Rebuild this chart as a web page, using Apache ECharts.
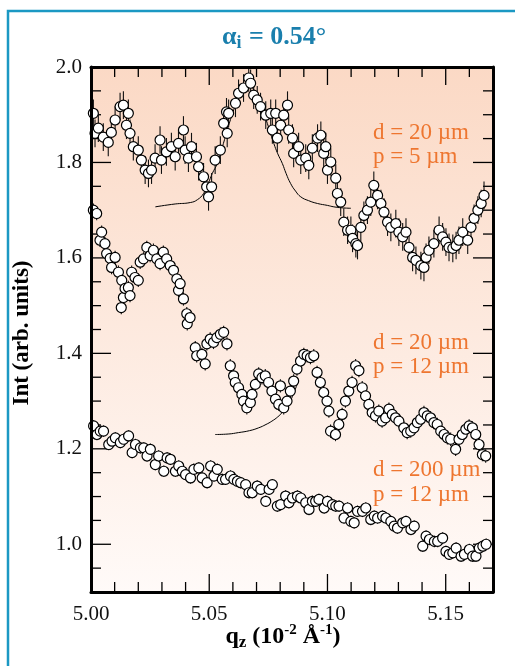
<!DOCTYPE html>
<html>
<head>
<meta charset="utf-8">
<script src="https://cdn.jsdelivr.net/npm/echarts@6.0.0/dist/echarts.min.js"></script>
<style>
    html, body { margin: 0; padding: 0; background: #fff; }
    #chart { width: 515px; height: 666px; }
</style>
</head>
<body>
<div id="chart"></div>
<script>
// d = 20 um, p = 5 um
var topQ = [5.0010, 5.0017, 5.0031, 5.0052, 5.0073, 5.0086, 5.0102, 5.0123, 5.0137, 5.0150, 5.0158, 5.0165,
    5.0179, 5.0200, 5.0213, 5.0229, 5.0243, 5.0256, 5.0271, 5.0292, 5.0298, 5.0319, 5.0340, 5.0356, 5.0370,
    5.0391, 5.0398, 5.0412, 5.0425, 5.0446, 5.0455, 5.0476, 5.0489, 5.0497, 5.0510, 5.0525, 5.0547, 5.0561,
    5.0573, 5.0576, 5.0582, 5.0611, 5.0624, 5.0645, 5.0667, 5.0675, 5.0688, 5.0703, 5.0717, 5.0739, 5.0760,
    5.0767, 5.0781, 5.0788, 5.0802, 5.0815, 5.0831, 5.0836, 5.0852, 5.0857, 5.0878, 5.0887, 5.0908, 5.0921,
    5.0936, 5.0958, 5.0972, 5.0984, 5.0993, 5.1000, 5.1014, 5.1035, 5.1042, 5.1056, 5.1069, 5.1085, 5.1099,
    5.1106, 5.1120, 5.1127, 5.1141, 5.1154, 5.1169, 5.1183, 5.1196, 5.1212, 5.1226, 5.1239, 5.1254, 5.1268,
    5.1289, 5.1302, 5.1318, 5.1332, 5.1345, 5.1360, 5.1374, 5.1395, 5.1408, 5.1417, 5.1429, 5.1450, 5.1472,
    5.1487, 5.1501, 5.1514, 5.1530, 5.1544, 5.1556, 5.1572, 5.1593, 5.1607, 5.1620, 5.1636, 5.1650, 5.1662];
var topI = [1.903, 1.861, 1.872, 1.853, 1.842, 1.863, 1.889, 1.917, 1.920, 1.878, 1.903, 1.861,
    1.833, 1.826, 1.805, 1.784, 1.777, 1.784, 1.809, 1.847, 1.805, 1.822, 1.833, 1.812, 1.840,
    1.868, 1.826, 1.809, 1.833, 1.812, 1.791, 1.770, 1.749, 1.728, 1.749, 1.805, 1.826, 1.882,
    1.906, 1.861, 1.903, 1.924, 1.945, 1.956, 1.977, 1.966, 1.941, 1.931, 1.917, 1.899, 1.903,
    1.868, 1.903, 1.851, 1.878, 1.899, 1.920, 1.868, 1.851, 1.819, 1.833, 1.805, 1.809, 1.794,
    1.830, 1.851, 1.857, 1.819, 1.833, 1.784, 1.801, 1.767, 1.735, 1.717, 1.675, 1.658, 1.658,
    1.641, 1.630, 1.626, 1.664, 1.689, 1.700, 1.717, 1.752, 1.731, 1.714, 1.696, 1.675, 1.664,
    1.672, 1.654, 1.644, 1.654, 1.622, 1.601, 1.595, 1.584, 1.580, 1.601, 1.616, 1.630, 1.658,
    1.644, 1.633, 1.622, 1.620, 1.626, 1.637, 1.654, 1.637, 1.664, 1.683, 1.700, 1.714, 1.731];

// d = 20 um, p = 12 um
var midQ = [5.0010, 5.0024, 5.0038, 5.0045, 5.0059, 5.0066, 5.0081, 5.0087, 5.0102, 5.0116, 5.0130, 5.0128,
    5.0137, 5.0144, 5.0158, 5.0165, 5.0172, 5.0186, 5.0200, 5.0208, 5.0222, 5.0236, 5.0250, 5.0264, 5.0278,
    5.0292, 5.0306, 5.0320, 5.0335, 5.0349, 5.0363, 5.0370, 5.0377, 5.0391, 5.0405, 5.0407, 5.0419, 5.0441,
    5.0447, 5.0469, 5.0483, 5.0490, 5.0504, 5.0518, 5.0532, 5.0547, 5.0561, 5.0575, 5.0589, 5.0603, 5.0610,
    5.0624, 5.0638, 5.0645, 5.0659, 5.0674, 5.0681, 5.0695, 5.0709, 5.0723, 5.0737, 5.0751, 5.0765, 5.0780,
    5.0794, 5.0801, 5.0815, 5.0829, 5.0843, 5.0857, 5.0871, 5.0886, 5.0900, 5.0914, 5.0928, 5.0942, 5.0956,
    5.0970, 5.0984, 5.0998, 5.1006, 5.1013, 5.1034, 5.1048, 5.1062, 5.1076, 5.1090, 5.1104, 5.1119, 5.1133,
    5.1147, 5.1161, 5.1175, 5.1189, 5.1203, 5.1217, 5.1231, 5.1246, 5.1260, 5.1274, 5.1288, 5.1302, 5.1323,
    5.1337, 5.1352, 5.1366, 5.1380, 5.1394, 5.1408, 5.1422, 5.1436, 5.1450, 5.1464, 5.1479, 5.1493, 5.1507,
    5.1521, 5.1542, 5.1556, 5.1570, 5.1585, 5.1599, 5.1613, 5.1627, 5.1641, 5.1655, 5.1669];
var midI = [1.700, 1.693, 1.637, 1.654, 1.630, 1.609, 1.599, 1.580, 1.601, 1.570, 1.553, 1.496,
    1.517, 1.536, 1.538, 1.521, 1.570, 1.559, 1.553, 1.591, 1.598, 1.622, 1.605, 1.616, 1.598,
    1.588, 1.612, 1.598, 1.584, 1.574, 1.556, 1.532, 1.546, 1.514, 1.483, 1.462, 1.475, 1.412,
    1.395, 1.398, 1.378, 1.420, 1.430, 1.423, 1.433, 1.440, 1.444, 1.420, 1.374, 1.353, 1.339,
    1.328, 1.314, 1.300, 1.286, 1.297, 1.314, 1.335, 1.357, 1.349, 1.353, 1.339, 1.321, 1.304,
    1.293, 1.332, 1.286, 1.300, 1.321, 1.342, 1.367, 1.384, 1.398, 1.395, 1.391, 1.395, 1.360,
    1.339, 1.318, 1.300, 1.279, 1.237, 1.230, 1.251, 1.272, 1.300, 1.321, 1.339, 1.374, 1.364,
    1.328, 1.311, 1.293, 1.276, 1.269, 1.279, 1.258, 1.265, 1.283, 1.272, 1.265, 1.258, 1.244,
    1.234, 1.237, 1.244, 1.255, 1.262, 1.276, 1.269, 1.265, 1.255, 1.251, 1.237, 1.230, 1.223,
    1.220, 1.199, 1.220, 1.230, 1.241, 1.248, 1.244, 1.230, 1.209, 1.188, 1.185];

// d = 200 um, p = 12 um
var lowQ = [5.0011, 5.0025, 5.0039, 5.0053, 5.0075, 5.0089, 5.0103, 5.0124, 5.0138, 5.0159, 5.0174, 5.0188,
    5.0209, 5.0223, 5.0237, 5.0251, 5.0272, 5.0286, 5.0308, 5.0322, 5.0336, 5.0357, 5.0371, 5.0386, 5.0400,
    5.0421, 5.0435, 5.0456, 5.0470, 5.0491, 5.0506, 5.0520, 5.0534, 5.0555, 5.0569, 5.0590, 5.0604, 5.0619,
    5.0633, 5.0654, 5.0668, 5.0682, 5.0703, 5.0718, 5.0739, 5.0753, 5.0767, 5.0788, 5.0802, 5.0823, 5.0837,
    5.0852, 5.0873, 5.0887, 5.0908, 5.0922, 5.0936, 5.0950, 5.0964, 5.0986, 5.1000, 5.1021, 5.1035, 5.1049,
    5.1070, 5.1085, 5.1099, 5.1113, 5.1127, 5.1148, 5.1162, 5.1183, 5.1198, 5.1212, 5.1233, 5.1247, 5.1268,
    5.1282, 5.1296, 5.1318, 5.1332, 5.1353, 5.1367, 5.1403, 5.1417, 5.1431, 5.1452, 5.1466, 5.1487, 5.1501,
    5.1515, 5.1530, 5.1544, 5.1565, 5.1579, 5.1600, 5.1614, 5.1628, 5.1642, 5.1657, 5.1671];
var lowI = [1.248, 1.230, 1.237, 1.237, 1.209, 1.216, 1.223, 1.213, 1.220, 1.227, 1.192, 1.209,
    1.202, 1.202, 1.185, 1.199, 1.167, 1.185, 1.153, 1.181, 1.178, 1.153, 1.164, 1.153, 1.146,
    1.139, 1.157, 1.160, 1.139, 1.129, 1.164, 1.143, 1.157, 1.136, 1.136, 1.143, 1.136, 1.132,
    1.129, 1.125, 1.108, 1.108, 1.122, 1.115, 1.090, 1.115, 1.125, 1.080, 1.083, 1.101, 1.087,
    1.097, 1.101, 1.097, 1.087, 1.073, 1.090, 1.090, 1.094, 1.076, 1.090, 1.083, 1.080, 1.080,
    1.055, 1.076, 1.048, 1.045, 1.069, 1.069, 1.076, 1.052, 1.059, 1.055, 1.059, 1.055, 1.048,
    1.038, 1.034, 1.045, 1.048, 1.031, 1.038, 0.996, 1.017, 1.010, 1.006, 1.006, 1.013, 0.985,
    0.979, 0.982, 0.992, 0.975, 0.979, 0.989, 0.975, 0.975, 0.992, 0.996, 1.000];

// error bar half widths
var topErr = 0.029;
var midErr = 0.014;
var lowErr = 0.012;

// fit curves
var fitTopQ = [5.0272, 5.0356, 5.0420, 5.0450, 5.0476, 5.0495, 5.0513, 5.0534, 5.0560, 5.0590, 5.0620, 5.0645,
    5.0665, 5.0685, 5.0710, 5.0740, 5.0773, 5.0790, 5.0809, 5.0825, 5.0844, 5.0865, 5.0887, 5.0920, 5.0958,
    5.1000, 5.1027, 5.1060, 5.1099];
var fitTopI = [1.707, 1.713, 1.716, 1.722, 1.735, 1.755, 1.777, 1.798, 1.840, 1.890, 1.930, 1.952,
    1.960, 1.955, 1.930, 1.890, 1.840, 1.818, 1.798, 1.777, 1.756, 1.740, 1.728, 1.720, 1.714,
    1.710, 1.707, 1.705, 1.704];
var fitMidQ = [5.0525, 5.0580, 5.0624, 5.0670, 5.0709, 5.0740, 5.0765, 5.0790, 5.0808, 5.0836, 5.0860, 5.0875];
var fitMidI = [1.230, 1.231, 1.234, 1.238, 1.244, 1.251, 1.258, 1.267, 1.276, 1.294, 1.320, 1.340];

// ticks (drawn on all four sides, pointing inward)
var xMajorTicks = [5.00, 5.05, 5.10, 5.15];
var xMinorTicks = [5.01, 5.02, 5.03, 5.04, 5.06, 5.07, 5.08, 5.09, 5.11, 5.12, 5.13, 5.14, 5.16];
var yMajorTicks = [1.0, 1.2, 1.4, 1.6, 1.8, 2.0];
var yMinorTicks = [0.95, 1.05, 1.1, 1.15, 1.25, 1.3, 1.35, 1.45, 1.5, 1.55, 1.65, 1.7, 1.75, 1.85, 1.9, 1.95];

var X_MIN = 5.0, X_MAX = 5.17, Y_MIN = 0.9, Y_MAX = 2.0;

var serif = '"Liberation Serif", "Times New Roman", serif';

function zip(q, v, e) {
    return q.map(function (x, i) {
        return e === undefined ? [x, v[i]] : [x, v[i], e];
    });
}

function renderErrorBar(params, api) {
    var x = api.value(0);
    var y = api.value(1);
    var e = api.value(2);
    var hi = api.coord([x, y + e]);
    var lo = api.coord([x, y - e]);
    return {
        type: 'line',
        shape: {x1: hi[0], y1: hi[1], x2: lo[0], y2: lo[1]},
        style: {stroke: '#111', lineWidth: 1.1}
    };
}

// one tick per item: a short line that starts on a plot edge and points inward
function tickRenderer(side, len) {
    return function (params, api) {
        var p = api.coord([api.value(0), api.value(1)]);
        var x2 = p[0], y2 = p[1];
        if (side === 'bottom') { y2 = p[1] - len; }
        if (side === 'top') { y2 = p[1] + len; }
        if (side === 'left') { x2 = p[0] + len; }
        if (side === 'right') { x2 = p[0] - len; }
        return {
            type: 'line',
            shape: {x1: p[0], y1: p[1], x2: x2, y2: y2},
            style: {stroke: '#000', lineWidth: 1.3}
        };
    };
}

function tickMarks(values, side, len) {
    var data = values.map(function (v) {
        if (side === 'bottom') { return [v, Y_MIN]; }
        if (side === 'top') { return [v, Y_MAX]; }
        if (side === 'left') { return [X_MIN, v]; }
        return [X_MAX, v];
    });
    return {
        type: 'custom', data: data, xAxisIndex: 0, yAxisIndex: 0, z: 3,
        encode: {x: 0, y: 1}, renderItem: tickRenderer(side, len)
    };
}

function scatterOf(data) {
    return {
        type: 'scatter', data: data, xAxisIndex: 0, yAxisIndex: 0, z: 4,
        symbol: 'circle', symbolSize: 10,
        itemStyle: {color: '#fff', borderColor: '#000', borderWidth: 1.2, opacity: 1}
    };
}

function barsOf(data) {
    return {
        type: 'custom', data: data, xAxisIndex: 0, yAxisIndex: 0, z: 3,
        encode: {x: 0, y: 1}, renderItem: renderErrorBar, clip: true
    };
}

function fitOf(data) {
    return {
        type: 'line', data: data, xAxisIndex: 0, yAxisIndex: 0, z: 2,
        showSymbol: false, smooth: true, lineStyle: {color: '#000', width: 1}
    };
}

function annotation(x, y, text) {
    return {
        type: 'text', x: x, y: y, z: 10,
        style: {text: text, fontFamily: serif, fontSize: 23, fill: '#ee7630',
            textAlign: 'left', textVerticalAlign: 'middle'}
    };
}

var chart = echarts.init(document.getElementById('chart'));

var option = {
    animation: false,
    backgroundColor: '#fff',
    grid: {
        left: 91, right: 22, top: 67, bottom: 74, show: false,
        outerBoundsMode: 'none'
    },
    xAxis: [
        {
            type: 'value', position: 'bottom', min: X_MIN, max: X_MAX, interval: 0.05, z: 5,
            axisLine: {show: true, onZero: false, lineStyle: {color: '#000', width: 3}},
            axisTick: {show: false},
            axisLabel: {
                show: true, showMaxLabel: false, margin: 12,
                fontFamily: serif, fontSize: 21, color: '#111',
                formatter: function (v) { return v.toFixed(2); }
            },
            splitLine: {show: false}
        },
        {
            type: 'value', position: 'top', min: X_MIN, max: X_MAX, z: 5,
            axisLine: {show: true, onZero: false, lineStyle: {color: '#000', width: 3}},
            axisTick: {show: false}, axisLabel: {show: false}, splitLine: {show: false}
        }
    ],
    yAxis: [
        {
            type: 'value', position: 'left', min: Y_MIN, max: Y_MAX, z: 5,
            axisLine: {show: true, onZero: false, lineStyle: {color: '#000', width: 3}},
            axisTick: {show: false},
            axisLabel: {
                show: true, customValues: yMajorTicks, margin: 9,
                fontFamily: serif, fontSize: 21, color: '#111',
                formatter: function (v) { return v.toFixed(1); }
            },
            splitLine: {show: false}
        },
        {
            type: 'value', position: 'right', min: Y_MIN, max: Y_MAX, z: 5,
            axisLine: {show: true, onZero: false, lineStyle: {color: '#000', width: 3}},
            axisTick: {show: false}, axisLabel: {show: false}, splitLine: {show: false}
        }
    ],
    series: [
        tickMarks(xMajorTicks, 'bottom', 18),
        tickMarks(xMajorTicks, 'top', 18),
        tickMarks(xMinorTicks, 'bottom', 10),
        tickMarks(xMinorTicks, 'top', 10),
        tickMarks(yMajorTicks, 'left', 20),
        tickMarks(yMajorTicks, 'right', 20),
        tickMarks(yMinorTicks, 'left', 10),
        tickMarks(yMinorTicks, 'right', 10),
        fitOf(zip(fitTopQ, fitTopI)),
        fitOf(zip(fitMidQ, fitMidI)),
        barsOf(zip(topQ, topI, topErr)),
        barsOf(zip(midQ, midI, midErr)),
        barsOf(zip(lowQ, lowI, lowErr)),
        scatterOf(zip(topQ, topI)),
        scatterOf(zip(midQ, midI)),
        scatterOf(zip(lowQ, lowI))
    ],
    graphic: [
        {
            // plot area background, same box as the grid
            type: 'rect', shape: {x: 91, y: 67, width: 402, height: 525}, z: -100, silent: true,
            style: {
                fill: new echarts.graphic.LinearGradient(0, 0, 0, 1, [
                    {offset: 0, color: '#fbd9c5'},
                    {offset: 1, color: '#fffaf8'}
                ])
            }
        },
        {
            type: 'rect', shape: {x: 8, y: 11, width: 540, height: 700}, z: -100, silent: true,
            style: {fill: 'none', stroke: '#1b98c3', lineWidth: 2.5}
        },
        {
            type: 'text', x: 274, y: 37, z: 10,
            style: {
                text: '{a|α}{s|i}{a| = 0.54°}', textAlign: 'center', textVerticalAlign: 'middle',
                rich: {
                    a: {fontFamily: serif, fontWeight: 'bold', fontSize: 26, fill: '#1a7fad', lineHeight: 30},
                    s: {fontFamily: serif, fontWeight: 'bold', fontSize: 18, fill: '#1a7fad', lineHeight: 18,
                        verticalAlign: 'bottom', padding: [0, 1, 0, 0]}
                }
            }
        },
        {
            type: 'text', x: 22, y: 333, rotation: Math.PI / 2, z: 10,
            style: {text: 'Int (arb. units)', fontFamily: serif, fontWeight: 'bold', fontSize: 23,
                fill: '#000', textAlign: 'center', textVerticalAlign: 'middle'}
        },
        {
            type: 'text', x: 283, y: 637, z: 10,
            style: {
                text: '{b|q}{s|z}{b| (10}{p|-2}{b| Å}{p|-1}{b|)}', textAlign: 'center', textVerticalAlign: 'middle',
                rich: {
                    b: {fontFamily: serif, fontWeight: 'bold', fontSize: 24, fill: '#000', lineHeight: 28},
                    s: {fontFamily: serif, fontWeight: 'bold', fontSize: 17, fill: '#000', lineHeight: 16,
                        verticalAlign: 'bottom'},
                    p: {fontFamily: serif, fontWeight: 'bold', fontSize: 15, fill: '#000', lineHeight: 15,
                        verticalAlign: 'top'}
                }
            }
        },
        annotation(373, 133, 'd = 20 µm'),
        annotation(373, 157, 'p = 5 µm'),
        annotation(373, 343, 'd = 20 µm'),
        annotation(373, 367, 'p = 12 µm'),
        annotation(373, 470, 'd = 200 µm'),
        annotation(373, 495, 'p = 12 µm')
    ]
};

chart.setOption(option);
</script>
</body>
</html>
